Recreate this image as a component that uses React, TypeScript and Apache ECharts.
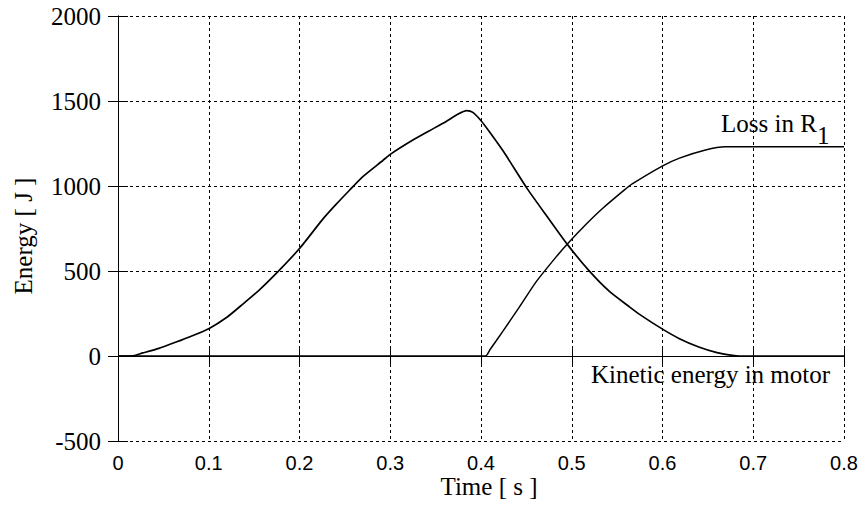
import React, { useEffect, useRef } from "react";
import * as echarts from "echarts";

// Kinetic energy in motor [J] vs time [s]
const kineticTime = [0, 0.015, 0.0273, 0.045, 0.064, 0.08, 0.1, 0.12, 0.1375, 0.155, 0.176, 0.2, 0.2257, 0.24, 0.2551, 0.2698, 0.2918, 0.3, 0.3249, 0.3432, 0.3616, 0.3744, 0.3843, 0.391, 0.4001, 0.4093, 0.425, 0.4515, 0.4717, 0.4949, 0.5195, 0.5415, 0.5636, 0.5747, 0.6, 0.6187, 0.64, 0.66, 0.677, 0.685, 0.8];
const kineticEnergy = [0, 0, 18, 45, 82, 115, 161, 228, 305, 385, 495, 632, 805, 890, 975, 1055, 1150, 1186, 1270, 1325, 1380, 1422, 1443, 1433, 1384, 1319, 1201, 980, 829, 658, 499, 380, 289, 245, 158, 102, 53, 20, 4, 0, 0];

// Loss in R1 [J] vs time [s]
const lossTime = [0, 0.405, 0.41, 0.424, 0.4424, 0.4607, 0.4828, 0.4949, 0.5158, 0.5342, 0.5581, 0.5666, 0.5997, 0.6187, 0.6474, 0.669, 0.8];
const lossEnergy = [0, 0, 38, 145, 289, 436, 583, 658, 775, 869, 977, 1012, 1117, 1164, 1212, 1231, 1231];

const xTicks = { min: 0, max: 0.8, interval: 0.1 };
const yTicks = { min: -500, max: 2000, interval: 500 };

const SERIF = "Liberation Serif, Times New Roman, DejaVu Serif, serif";
const SANS = "Liberation Sans, Arial, sans-serif";

export default function App() {
  const ref = useRef<HTMLDivElement>(null);
  useEffect(() => {
    document.body.style.margin = "0";
    const chart = echarts.init(ref.current!, null, { renderer: "svg" });
    const kin = kineticTime.map((t, i) => [t, kineticEnergy[i]]);
    const loss = lossTime.map((t, i) => [t, lossEnergy[i]]);
    const dash = { color: "#000", width: 1, type: [3, 3] as any };
    const axLine = { show: true, lineStyle: { color: "#000", width: 1 } };
    const tick = { show: true, inside: true, length: 10, lineStyle: { color: "#000", width: 1 } };
    const txt = (text: string, x: number, y: number, align: string, extra: any = {}) => ({
      type: "text", x, y, ...extra,
      style: { text, font: `25px ${SERIF}`, fill: "#000", textAlign: align, textVerticalAlign: "middle" },
    });
    chart.setOption({
      animation: false,
      backgroundColor: "#fff",
      grid: { left: 118, right: 22, top: 16, bottom: 65 },
      xAxis: [
        {
          type: "value", ...xTicks, position: "bottom",
          axisLine: axLine, axisTick: tick,
          splitLine: { show: true, lineStyle: dash },
          axisLabel: {
            margin: 12, color: "#000", fontFamily: SANS, fontSize: 20,
            formatter: (v: number) => (v === 0 ? "0" : v.toFixed(1)),
          },
        },
        {
          type: "value", ...xTicks, position: "top",
          axisLine: axLine, axisTick: tick, splitLine: { show: false }, axisLabel: { show: false },
        },
      ],
      yAxis: [
        {
          type: "value", ...yTicks, position: "left",
          axisLine: axLine, axisTick: tick,
          splitLine: { show: true, lineStyle: dash },
          axisLabel: { margin: 17, color: "#000", fontFamily: SERIF, fontSize: 25, formatter: (v: number) => String(v) },
        },
        {
          type: "value", ...yTicks, position: "right",
          axisLine: axLine, axisTick: tick, splitLine: { show: false }, axisLabel: { show: false },
        },
      ],
      series: [
        {
          name: "Kinetic energy in motor", type: "line", data: kin, showSymbol: false,
          smooth: 0.2, lineStyle: { color: "#000", width: 1.7 }, z: 5,
        },
        {
          name: "Loss in R1", type: "line", data: loss, showSymbol: false,
          smooth: 0.2, lineStyle: { color: "#000", width: 1.5 }, z: 5,
        },
      ],
      graphic: [
        txt("Time [ s ]", 489, 486.5, "center"),
        txt("Energy [ J ]", 23, 236, "center", { rotation: Math.PI / 2 }),
        txt("Kinetic energy in motor", 591, 374, "left"),
        txt("Loss in R", 721, 123.5, "left"),
        txt("1", 817, 135.5, "left"),
      ],
    });
    return () => chart.dispose();
  }, []);
  return <div ref={ref} style={{ width: 866, height: 506 }} />;
}
